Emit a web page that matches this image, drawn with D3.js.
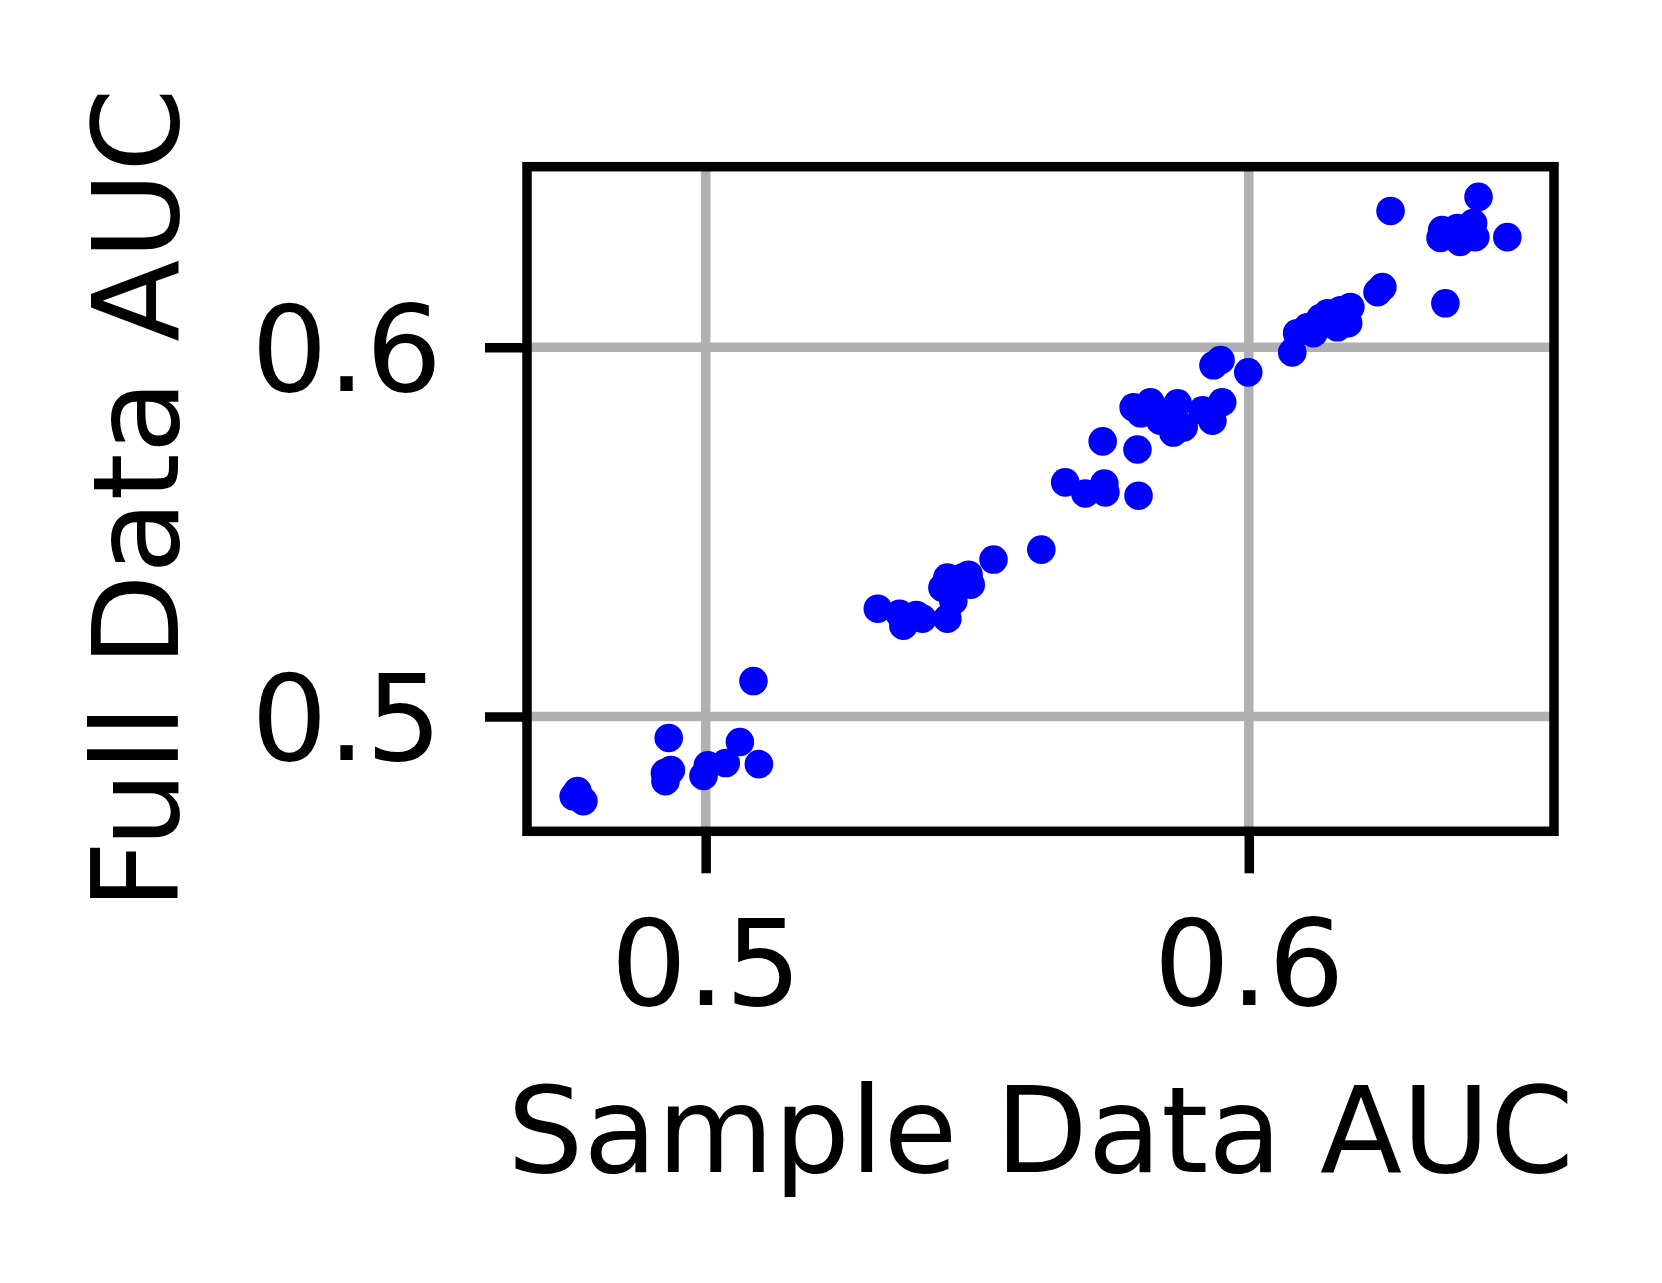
<!DOCTYPE html>
<html>
<head>
<meta charset="utf-8">
<script src="https://cdn.jsdelivr.net/npm/d3@7"></script>
<style>
  html, body { margin: 0; padding: 0; background: #fff; }
  svg { display: block; }
  text { font-family: "DejaVu Sans", sans-serif; fill: #000; }
</style>
</head>
<body>
<svg id="chart" width="1662" height="1283"></svg>
<script>
// Sample-data AUC vs full-data AUC, one dot per run
const sampleAuc = [
  0.4757, 0.4764, 0.4775,
  0.4932, 0.4925, 0.4936, 0.4926, 0.4996, 0.5004, 0.5037, 0.5063, 0.5098, 0.5088,
  0.5317, 0.5357, 0.5364, 0.5388, 0.5399, 0.5445, 0.5456, 0.5436, 0.5445, 0.5473,
  0.5484, 0.5488, 0.5530, 0.5618,
  0.5662, 0.5699, 0.5734, 0.5736, 0.5797, 0.5731, 0.5795, 0.5788, 0.5819, 0.5824,
  0.5801, 0.5869, 0.5861, 0.5880, 0.5837, 0.5915, 0.5933, 0.5951, 0.5935, 0.5948, 0.5999,
  0.6080, 0.6089, 0.6108, 0.6119, 0.6132, 0.6145, 0.6163, 0.6169, 0.6183, 0.6187,
  0.6181, 0.6237, 0.6246,
  0.6261, 0.6423, 0.6356, 0.6353, 0.6389, 0.6384, 0.6413, 0.6417, 0.6402, 0.6476, 0.6362
];
const fullAuc = [
  0.4784, 0.4798, 0.4771,
  0.4942, 0.4847, 0.4855, 0.4825, 0.4839, 0.4868, 0.4874, 0.4931, 0.4871, 0.5096,
  0.5292, 0.5278, 0.5246, 0.5275, 0.5265, 0.5265, 0.5313, 0.5349, 0.5376, 0.5376,
  0.5384, 0.5357, 0.5425, 0.5452,
  0.5634, 0.5604, 0.5631, 0.5607, 0.5598, 0.5745, 0.5723, 0.5837, 0.5851, 0.5829,
  0.5821, 0.5848, 0.5769, 0.5783, 0.5801, 0.5829, 0.5801, 0.5851, 0.5951, 0.5965, 0.5932,
  0.5986, 0.6038, 0.6054, 0.6038, 0.6079, 0.6092, 0.6054, 0.6100, 0.6065, 0.6109,
  0.6073, 0.6149, 0.6163,
  0.6369, 0.6407, 0.6317, 0.6296, 0.6285, 0.6323, 0.6336, 0.6298, 0.6312, 0.6298, 0.6119
];
const xTicks = [0.5, 0.6];
const yTicks = [0.5, 0.6];
const xLabel = "Sample Data AUC";
const yLabel = "Full Data AUC";

(function () {
  "use strict";
  const points = sampleAuc.map((x, i) => ({ x, y: fullAuc[i] }));

  const W = 1662, H = 1283;
  const m = { left: 527, right: 1554, top: 166.7, bottom: 831.3 };
  const fontSize = 120;

  // matplotlib-style 5% margins around the data
  function padded(ext) {
    const pad = (ext[1] - ext[0]) * 0.05;
    return [ext[0] - pad, ext[1] + pad];
  }

  const x = d3.scaleLinear().domain(padded(d3.extent(sampleAuc))).range([m.left, m.right]);
  const y = d3.scaleLinear().domain(padded(d3.extent(fullAuc))).range([m.bottom, m.top]);

  const svg = d3.select("#chart");
  svg.append("rect").attr("width", W).attr("height", H).attr("fill", "#fff");

  // grid
  const grid = svg.append("g").attr("stroke", "#b0b0b0").attr("stroke-width", 9.5);
  grid.selectAll("line.gx").data(xTicks).join("line")
    .attr("x1", (d) => x(d)).attr("x2", (d) => x(d))
    .attr("y1", m.top).attr("y2", m.bottom);
  grid.selectAll("line.gy").data(yTicks).join("line")
    .attr("x1", m.left).attr("x2", m.right)
    .attr("y1", (d) => y(d)).attr("y2", (d) => y(d));

  // dots
  svg.append("g")
    .selectAll("circle")
    .data(points)
    .join("circle")
    .attr("cx", (d) => x(d.x))
    .attr("cy", (d) => y(d.y))
    .attr("r", 14.3)
    .attr("fill", "#0000ff");

  // axes
  const tickLen = 42;
  const yAxis = svg.append("g")
    .attr("transform", `translate(${m.left},0)`)
    .call(d3.axisLeft(y).tickValues(yTicks).tickFormat(d3.format(".1f"))
      .tickSize(tickLen).tickPadding(43));
  const xAxis = svg.append("g")
    .attr("transform", `translate(0,${m.bottom})`)
    .call(d3.axisBottom(x).tickValues(xTicks).tickFormat(d3.format(".1f"))
      .tickSize(tickLen).tickPadding(47));

  [xAxis, yAxis].forEach((a) => {
    a.select(".domain").remove();
    a.selectAll(".tick line").attr("stroke", "#000").attr("stroke-width", 9.5);
    a.selectAll(".tick text")
      .attr("font-family", "DejaVu Sans, sans-serif")
      .attr("font-size", fontSize)
      .attr("fill", "#000");
  });
  yAxis.selectAll(".tick text").attr("dy", "0.36em");

  // frame
  svg.append("rect")
    .attr("x", m.left).attr("y", m.top)
    .attr("width", m.right - m.left).attr("height", m.bottom - m.top)
    .attr("fill", "none").attr("stroke", "#000").attr("stroke-width", 9.5);

  // axis labels
  svg.append("text")
    .attr("x", (m.left + m.right) / 2)
    .attr("y", 1171.5)
    .attr("text-anchor", "middle")
    .attr("font-size", fontSize)
    .text(xLabel);

  svg.append("text")
    .attr("transform", `translate(177.5,${(m.top + m.bottom) / 2}) rotate(-90)`)
    .attr("text-anchor", "middle")
    .attr("font-size", fontSize)
    .text(yLabel);
})();
</script>
</body>
</html>
